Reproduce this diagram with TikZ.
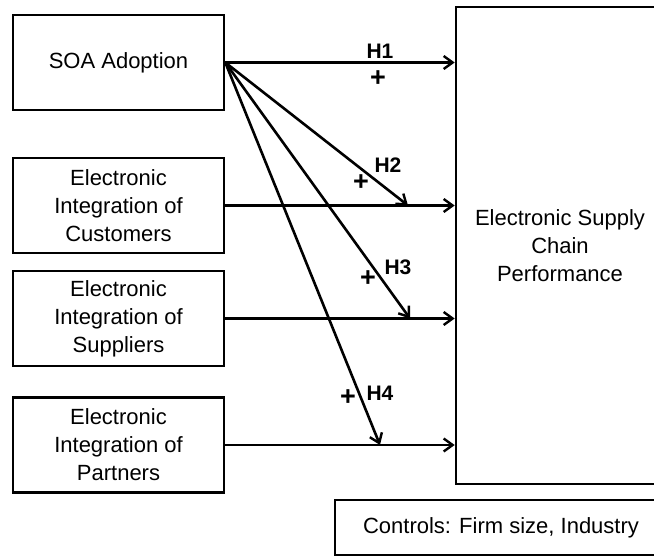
\documentclass[tikz,border=0pt]{standalone}
\usepackage{fontspec}
\setmainfont{Liberation Sans}
\usetikzlibrary{arrows.meta}

\begin{document}
\begin{tikzpicture}[x=1pt, y=-1pt,
    box/.style n args={2}{draw, line width=2.6pt,
    minimum width=#1pt,
    minimum height=#2pt,
    inner sep=0pt, align=center,
    font=\fontsize{22}{28}\selectfont},
    hyp/.style={font=\fontsize{21}{24}\bfseries\selectfont, inner sep=0pt},
    plus/.style={font=\fontsize{27}{28}\bfseries\selectfont, inner sep=0pt},
    arr/.style={line width=2.6pt, -{Straight Barb[length=9pt,width=13pt,line width=2.4pt]}}]
    \clip (0,0) rectangle (654,556);
    \useasboundingbox (0,0) rectangle (654,556);
    \node[box={211}{95}](soa) at (118.5,62.5) {SOA Adoption};
    \node[box={211}{95}](cust) at (118.5,205.5) {Electronic\\Integration of\\Customers};
    \node[box={211}{95}](supp) at (118.5,318.5) {Electronic\\Integration of\\Suppliers};
    \node[box={211}{95}](part) at (118.5,445) {Electronic\\Integration of\\Partners};
    \node[box={208}{477}](escp) at (560,245.5) {Electronic Supply\\Chain\\Performance};
    \node[box={332}{55}](ctrl) at (501,527.5) {Controls: Firm size, Industry};
    \coordinate (h2end) at (408,205.5);
    \coordinate (h3end) at (410,318.5);
    \coordinate (h4end) at (380,445);
    \draw[arr] (soa.east) -- (soa.east -| escp.west);
    \draw[arr] (cust.east) -- (cust.east -| escp.west);
    \draw[arr] (supp.east) -- (supp.east -| escp.west);
    \draw[arr] (part.east) -- (part.east -| escp.west);
    \draw[arr] (soa.east) -- (h2end);
    \draw[arr] (soa.east) -- (h3end);
    \draw[arr] (soa.east) -- (h4end);
    \node[hyp](h1) at (380,51) {H1};
    \node[plus](p1) at (378,79) {+};
    \node[hyp](h2) at (388,165) {H2};
    \node[plus](p2) at (361,183) {+};
    \node[hyp](h3) at (398,267) {H3};
    \node[plus](p3) at (368,279) {+};
    \node[hyp](h4) at (380,393) {H4};
    \node[plus](p4) at (348,398) {+};
\end{tikzpicture}
\end{document}
